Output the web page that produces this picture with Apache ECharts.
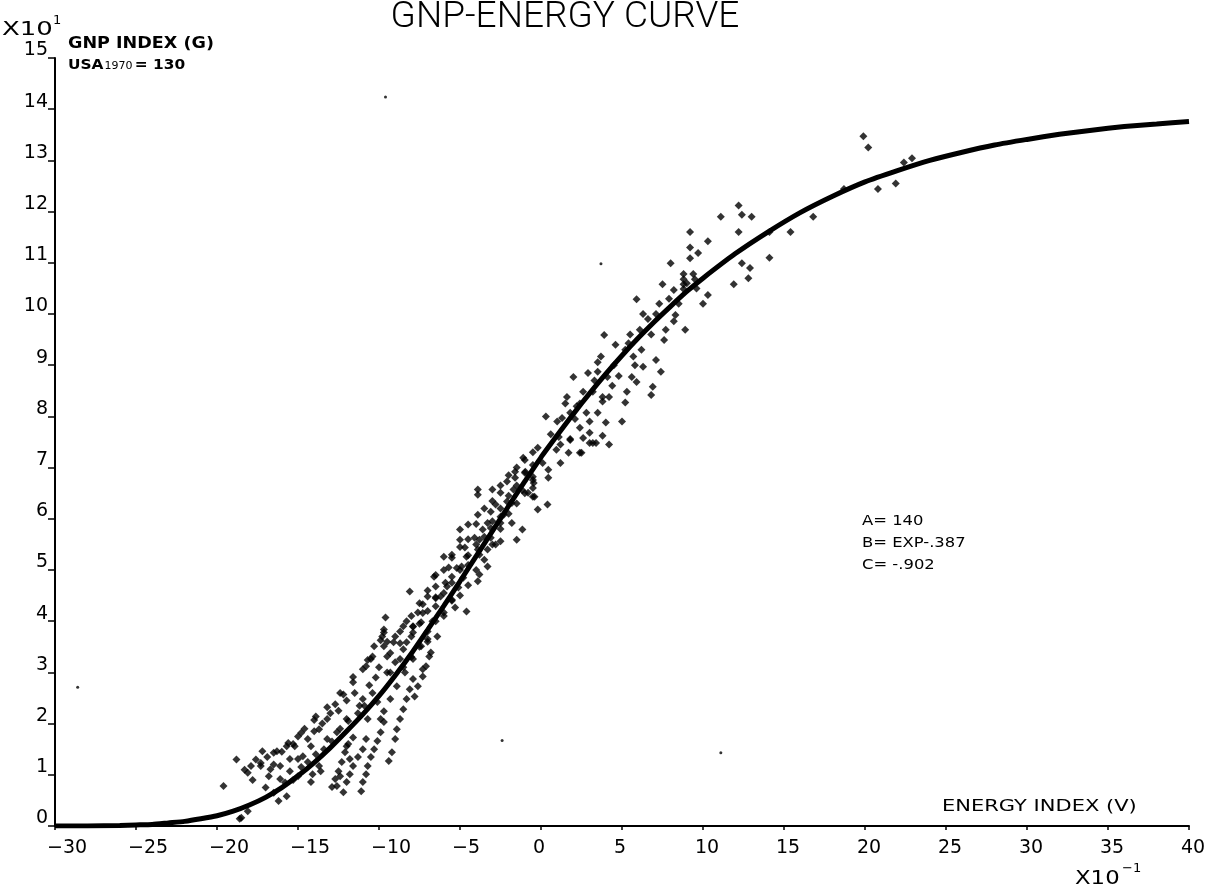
<!DOCTYPE html>
<html><head><meta charset="utf-8">
<script src="https://cdn.jsdelivr.net/npm/echarts@6/dist/echarts.min.js"></script>
<style>html,body{margin:0;padding:0;background:#fff}#c{width:1218px;height:895px}</style>
</head><body><div id="c"></div>
<script>
// ---- data (V in units of 0.1, G in units of 10) ----
const xTicks = [-30,-25,-20,-15,-10,-5,0,5,10,15,20,25,30,35,40];
const yTicks = [0,1,2,3,4,5,6,7,8,9,10,11,12,13,14,15];

const curveV = [-30,-28,-26,-25,-24,-23,-22,-21,-20,-19,-18,-17,-16,-15,-14,-13,-12,-11,-10,-9,-8,-7,-6,-5,-4,-3,-2,-1,0,1,2,3,4,5,6,7,8,9,10,12,14,16,18,20,22,24,26,28,30,32,34,36,38,40];
const curveG = [0.0,0.0,0.01,0.02,0.03,0.06,0.09,0.14,0.2,0.29,0.41,0.56,0.75,0.98,1.24,1.53,1.85,2.18,2.54,2.94,3.37,3.83,4.3,4.78,5.27,5.76,6.25,6.73,7.2,7.63,8.05,8.45,8.83,9.19,9.53,9.85,10.15,10.44,10.7,11.18,11.6,11.98,12.3,12.58,12.8,13.0,13.16,13.3,13.41,13.51,13.59,13.66,13.71,13.76];

const upperDots = [[19.9,13.47],[20.2,13.25],[22.4,12.96],[22.9,13.04],[21.9,12.55],[20.8,12.44],[18.7,12.44],[16.8,11.9],[15.4,11.6],[14.1,11.6],[14.1,11.1],[12.2,12.12],[13.0,11.9],[11.1,11.9],[12.2,11.6],[9.2,11.6],[10.3,11.42],[9.2,11.3],[9.7,11.19],[9.2,11.09],[12.4,10.99],[12.9,10.9],[12.8,10.7],[11.9,10.58],[9.5,10.68],[8.8,10.68],[8.8,10.49],[10.3,10.37],[10.0,10.2],[12.4,11.94]];

const midDots = [[8.0,10.99],[8.8,10.78],[9.4,10.78],[7.5,10.58],[8.8,10.58],[8.2,10.47],[5.9,10.29],[6.3,10.0],[7.1,10.0],[6.6,9.9],[8.3,9.98],[8.2,9.86],[6.1,9.69],[7.7,9.69],[8.9,9.69],[7.6,9.49],[3.9,9.59],[5.4,9.43],[5.2,9.3],[5.7,9.17],[3.7,9.17],[3.5,9.06],[5.8,9.0],[6.3,8.97],[3.5,8.87],[4.1,8.77],[2.0,8.77],[4.8,8.79],[5.6,8.77],[5.9,8.67],[6.9,8.58],[5.3,8.48],[1.6,8.38],[2.6,8.48],[3.2,8.48],[3.8,8.38],[4.2,8.38],[3.8,8.29],[5.2,8.27],[2.4,8.25],[1.8,8.07],[2.8,8.07],[3.5,8.07],[0.3,8.0],[1.3,7.97],[3.0,7.9],[4.0,7.88],[5.0,7.9],[2.4,7.78],[3.0,7.68],[1.8,7.56],[2.6,7.58],[3.0,7.48],[3.4,7.48],[1.1,7.6],[0.95,7.35],[1.7,7.29],[2.5,7.29],[-1.1,7.19],[-0.2,7.39],[0.45,6.96],[0.45,6.8],[-0.97,6.92],[-0.45,6.7],[-0.4,6.43],[7.1,9.1],[7.4,8.87],[6.8,8.42],[3.8,7.62],[4.2,7.45],
[1.0,7.9],[2.2,8.2],[3.3,8.7],[4.5,9.0],[4.4,8.6],[5.5,9.6],[6.2,9.3],[6.8,9.6],[7.3,10.2],[7.9,10.3],[8.5,10.2],[9.0,10.6],[9.6,10.5],[1.5,8.25],[2.9,8.85],[4.6,9.4],[0.6,7.65],[2.1,7.95]];

const bandDots = [[1.2,7.45],[1.8,7.54],[3.2,7.48],[2.4,7.29],[1.2,7.09],[-1.6,6.92],[-1.6,6.8],[-2.1,6.73],[-0.5,6.76],[-3.9,6.57],[-3.9,6.47],[-3.0,6.57],[-2.5,6.51],[-1.7,6.57],[-0.8,6.51],[-0.5,6.43],[-2.1,6.34],[-2.8,6.28],[0.4,6.28],[-0.2,6.18],[-3.1,6.14],[-3.9,6.08],[-2.3,6.08],[-1.8,5.92],[-2.5,5.92],[-3.3,5.92],[-4.5,5.89],[-5.0,5.79],[-3.6,5.79],[-4.1,5.63],[-3.1,5.63],[-5.0,5.59],[-1.5,5.59],[-1.15,5.79],[-2.5,5.56],[-4.7,5.44],[-3.9,5.4],[-3.3,5.4],[-2.8,5.5],[-6.0,5.26],[-5.5,5.24],[-4.6,5.26],[-3.8,5.3],[-3.3,5.07],[-4.9,5.07],[-5.7,5.05],[-3.8,4.91],[-6.6,4.87],[-5.5,4.87],[-4.8,4.85],[-3.9,4.78],[-6.5,4.68],[-5.8,4.68],[-5.1,4.66],[-8.1,4.58],[-7.0,4.48],[-6.2,4.48],[-5.5,4.42],[-5.3,4.27],[-4.6,4.19],[-7.3,4.33],[-6.5,4.29],[-6.0,4.17],[-7.6,4.17],[-8.3,4.0],[-7.4,3.98],[-6.7,4.0],[-9.6,4.07],[-8.7,3.8],[-7.9,3.78],[-7.0,3.8],[-6.4,3.7],[-9.7,3.78],[-9.1,3.59],[-8.3,3.59],[-7.4,3.51],[-6.8,3.39],[-9.5,3.31],[-8.7,3.26],[-7.9,3.26],[-7.3,3.06],[-9.3,3.0],[-8.4,3.0],[-9.7,3.51],
[-9.3,3.38],[-8.7,3.57],[-7.9,3.89],[-7.3,4.16],[-6.5,4.47],[-5.9,4.75],[-5.2,5.04],[-4.5,5.29],[-3.8,5.59],[-3.1,5.82],[-2.5,6.04],[-1.8,6.31],[-1.15,6.56],[-0.5,6.82],[0.1,7.09],
[-9.5,3.0],[-9.5,3.6],[-9.0,3.2],[-9.0,3.7],[-8.5,3.1],[-8.5,3.45],[-8.5,3.9],[-8.0,3.3],[-8.0,3.7],[-8.0,4.1],[-7.5,3.5],[-7.5,3.95],[-7.5,4.35],[-7.0,3.6],[-7.0,4.2],[-7.0,4.6],[-6.5,4.0],[-6.5,4.45],[-6.5,4.9],[-6.0,4.1],[-6.0,4.55],[-6.0,5.0],[-5.5,4.4],[-5.5,4.75],[-5.5,5.3],[-5.0,4.5],[-5.0,5.0],[-5.0,5.45],[-4.5,4.7],[-4.5,5.1],[-4.5,5.6],[-4.0,5.0],[-4.0,5.5],[-4.0,5.9],[-3.5,5.2],[-3.5,5.65],[-3.5,6.2],[-3.0,5.5],[-3.0,5.95],[-3.0,6.35],[-2.5,5.8],[-2.5,6.2],[-2.5,6.65],[-2.0,6.1],[-2.0,6.45],[-2.0,6.85],[-1.5,6.3],[-1.5,6.65],[-1.5,7.0],[-1.0,6.5],[-1.0,6.9],[-1.0,7.15],[-0.5,6.6],[-0.5,7.05],[-0.5,7.3]];

const lowDots = [[-9.8,3.7],[-9.7,3.84],[-10.3,3.51],[-10.5,3.26],[-11.0,3.06],[-11.6,2.81],[-12.2,2.57],[-12.7,2.38],[-13.9,2.14],[-13.2,2.09],[-13.7,1.89],[-14.4,1.7],[-15.2,1.56],[-15.7,1.56],[-16.3,1.46],[-17.2,1.46],[-17.9,1.17],[-17.3,1.17],[-16.7,1.11],[-16.1,1.17],[-15.5,1.07],[-16.8,0.97],[-16.1,0.92],[-14.1,1.01],[-13.7,1.17],[-15.0,1.31],[-16.2,0.49],[-15.7,0.58],[-18.6,0.14],[-19.6,0.78],[-10.7,2.09],[-11.6,1.73],[-12.0,1.56],[-11.8,1.31],[-12.4,0.97],[-12.6,0.78],[-13.6,1.07],[-9.7,2.24],[-9.9,2.09],[-10.4,3.31],[-10.8,3.12],[-7.9,3.9],[-7.0,3.65],[-8.9,2.73],[-9.3,2.48],[-10.1,2.42],[-11.0,2.48],[-12.0,2.09],[-12.6,1.83],[-13.2,1.7],[-14.2,1.56],[-14.7,1.36],[-15.5,1.31],[-15.0,0.97],[-14.2,0.86],[-18.1,0.29],[-18.5,0.16],
[-9.9,3.63],[-10.7,3.24],[-11.6,2.91],[-12.4,2.6],[-13.2,2.32],[-14.0,2.07],[-14.8,1.82],[-15.6,1.62],[-16.5,1.43],[-17.3,1.23],[-18.1,1.04],
[-18.8,1.3],[-18.3,1.1],[-17.6,1.3],[-16.9,1.35],[-16.5,1.2],[-16.0,1.45],[-15.3,1.6],[-15.0,1.75],[-14.6,1.9],[-14.0,1.85],[-13.5,2.0],[-13.0,2.2],[-12.5,2.25],[-12.0,2.45],[-11.5,2.6],[-11.2,2.35],[-10.6,2.75],[-10.2,2.9],[-10.0,3.1],[-17.8,0.9],[-17.0,0.75],[-16.5,0.65],[-15.8,0.85],[-15.3,0.9],[-14.8,1.15],[-14.4,1.25],[-13.9,1.4],[-13.4,1.5],[-12.9,1.65],[-12.4,1.9],[-11.9,2.05],[-11.3,2.2],[-10.9,2.35],[-10.4,2.6]];

const streakDots = [[-12.9,0.76],[-12.7,0.92],[-12.5,1.07],[-12.3,1.25],[-12.1,1.44],[-11.9,1.6],
[-12.2,0.66],[-12.0,0.86],[-11.8,1.01],[-11.6,1.17],[-11.3,1.35],[-11.0,1.5],[-10.8,1.7],
[-11.1,0.68],[-11.0,0.86],[-10.8,1.01],[-10.7,1.17],[-10.5,1.35],[-10.3,1.5],[-10.1,1.66],[-9.9,1.83],[-9.7,2.03],
[-9.4,1.27],[-9.2,1.44],[-9.0,1.7],[-8.9,1.89],[-8.7,2.09],[-8.5,2.28],[-8.3,2.48],[-8.1,2.67],[-7.9,2.87],
[-7.8,2.53],[-7.6,2.73],[-7.3,2.92],[-7.1,3.12],[-6.9,3.31]];

const strayMarks = [[-28.6,2.71],[-9.6,14.24],[11.1,1.43],[-2.4,1.67],[3.7,10.98]];

// ---- chart ----
const chart = echarts.init(document.getElementById('c'), null, {renderer:'canvas'});
const FONT = 'DejaVu Sans';
const fmtX = v => (v < 0 ? '\u2212' + (-v) : String(v));
const allDots = [].concat(upperDots, midDots, bandDots, lowDots, streakDots);

chart.setOption({
  backgroundColor: '#fff',
  animation: false,
  grid: {left: 55, right: 29, top: 58, bottom: 69, containLabel: false},
  xAxis: {
    type: 'value', min: xTicks[0], max: xTicks[xTicks.length-1], interval: xTicks[1]-xTicks[0],
    splitLine: {show: false},
    axisLine: {show: true, onZero: false, lineStyle: {color: '#000', width: 2}},
    axisTick: {show: true, length: 4, lineStyle: {color: '#000', width: 1.5}},
    axisLabel: {
      margin: 13, color: '#000', fontFamily: FONT, fontSize: 19,
      formatter: v => '{t|' + fmtX(v) + '}',
      rich: {t: {width: 16, align: 'left', fontFamily: FONT, fontSize: 19, color: '#000'}}
    }
  },
  yAxis: {
    type: 'value', min: yTicks[0], max: yTicks[yTicks.length-1], interval: yTicks[1]-yTicks[0],
    splitLine: {show: false},
    axisLine: {show: true, onZero: false, lineStyle: {color: '#000', width: 2}},
    axisTick: {show: true, length: 7, lineStyle: {color: '#000', width: 1.5}},
    axisLabel: {margin: 7, color: '#000', fontFamily: FONT, fontSize: 19, verticalAlign: 'bottom', lineHeight: 15}
  },
  series: [
    {
      name: 'curve', type: 'line', data: curveV.map((v,i) => [v, curveG[i]]),
      showSymbol: false, smooth: 0.2, lineStyle: {color: '#000', width: 5}, z: 3
    },
    {
      name: 'countries', type: 'scatter', data: allDots, symbol: 'diamond', symbolSize: 8,
      itemStyle: {color: '#000'}, z: 4
    },
    {
      name: 'stray', type: 'scatter', data: strayMarks, symbol: 'circle', symbolSize: 3,
      itemStyle: {color: '#000'}, z: 4
    }
  ],
  graphic: [
    {type: 'text', x: 565, y: 18, style: {text: 'GNP-ENERGY CURVE', fontFamily: 'Roboto', fontWeight: 300, fontSize: 37, fill: '#000', align: 'center', verticalAlign: 'middle'}},
    {type: 'text', x: 2, y: 30, scaleX: 1.3, style: {text: 'X10', fontFamily: FONT, fontSize: 20, fill: '#000', align: 'left', verticalAlign: 'middle'}},
    {type: 'text', x: 53, y: 21, style: {text: '1', fontFamily: FONT, fontSize: 13, fill: '#000', align: 'left', verticalAlign: 'middle'}},
    {type: 'text', x: 68, y: 44, scaleX: 1.17, style: {text: 'GNP INDEX (G)', fontFamily: FONT, fontWeight: 'bold', fontSize: 15, fill: '#000', align: 'left', verticalAlign: 'middle'}},
    {type: 'text', x: 68, y: 65, scaleX: 1.1, style: {text: '{a|USA}{s|1970}{a|= 130}', fill: '#000', align: 'left', verticalAlign: 'middle',
      rich: {a: {fontFamily: FONT, fontWeight: 'bold', fontSize: 14, fill: '#000'}, s: {fontFamily: FONT, fontSize: 10, fill: '#000', padding: [3,2,0,1]}}}},
    {type: 'text', x: 942, y: 807, scaleX: 1.4, style: {text: 'ENERGY INDEX (V)', fontFamily: FONT, fontSize: 15, fill: '#000', align: 'left', verticalAlign: 'middle'}},
    {type: 'text', x: 1075, y: 879, scaleX: 1.2, style: {text: 'X10', fontFamily: FONT, fontSize: 19, fill: '#000', align: 'left', verticalAlign: 'middle'}},
    {type: 'text', x: 1122, y: 869, style: {text: '\u22121', fontFamily: FONT, fontSize: 13, fill: '#000', align: 'left', verticalAlign: 'middle'}},
    {type: 'text', x: 862, y: 521, scaleX: 1.17, style: {text: 'A= 140', fontFamily: FONT, fontSize: 14, fill: '#000', align: 'left', verticalAlign: 'middle'}},
    {type: 'text', x: 862, y: 543, scaleX: 1.17, style: {text: 'B= EXP-.387', fontFamily: FONT, fontSize: 14, fill: '#000', align: 'left', verticalAlign: 'middle'}},
    {type: 'text', x: 862, y: 565, scaleX: 1.17, style: {text: 'C= -.902', fontFamily: FONT, fontSize: 14, fill: '#000', align: 'left', verticalAlign: 'middle'}}
  ]
});
</script></body></html>
